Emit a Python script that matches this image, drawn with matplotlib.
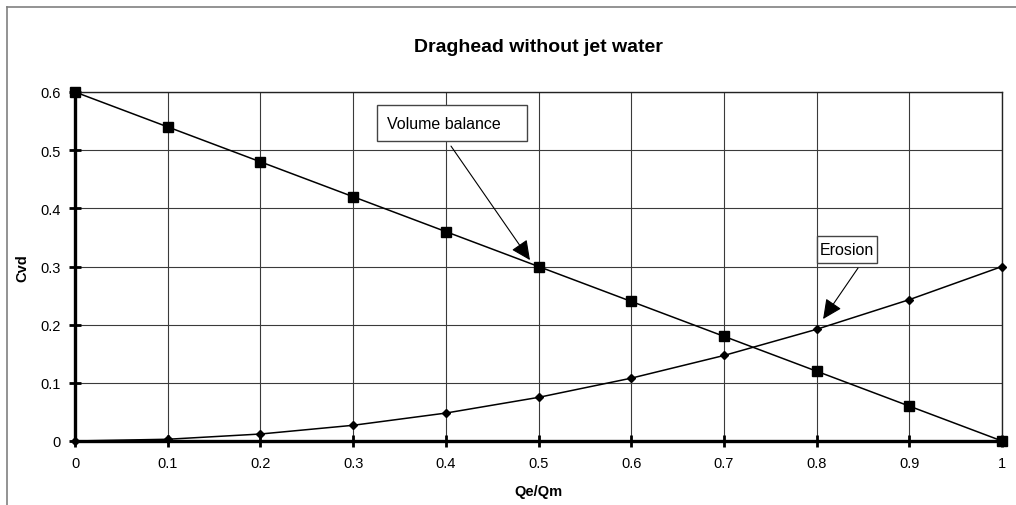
import matplotlib
matplotlib.use('Agg')
import matplotlib.pyplot as plt
from matplotlib.lines import Line2D
from matplotlib.patches import Rectangle

plt.rcParams['font.family'] = ['Liberation Sans', 'DejaVu Sans']

# Qe/Qm ratio and resulting Cvd for both approaches
qe_qm = [0.0, 0.1, 0.2, 0.3, 0.4, 0.5, 0.6, 0.7, 0.8, 0.9, 1.0]
volume_balance = [0.60, 0.54, 0.48, 0.42, 0.36, 0.30, 0.24, 0.18, 0.12, 0.06, 0.0]
erosion = [0.0, 0.003, 0.012, 0.027, 0.048, 0.075, 0.108, 0.147, 0.192, 0.243, 0.300]

x_ticks = [0, 0.1, 0.2, 0.3, 0.4, 0.5, 0.6, 0.7, 0.8, 0.9, 1]
x_tick_labels = ['0', '0.1', '0.2', '0.3', '0.4', '0.5', '0.6', '0.7', '0.8', '0.9', '1']
y_ticks = [0, 0.1, 0.2, 0.3, 0.4, 0.5, 0.6]
y_tick_labels = ['0', '0.1', '0.2', '0.3', '0.4', '0.5', '0.6']

W, H = 1016, 506
fig = plt.figure(figsize=(W / 100, H / 100), dpi=100)
ax = fig.add_axes([75 / W, (H - 442) / H, 927 / W, 349 / H])

# outer chart frame (top and left edges only)
fig.add_artist(Line2D([7 / W, 1], [1 - 8 / H, 1 - 8 / H], transform=fig.transFigure,
                      color='#808080', lw=1.2))
fig.add_artist(Line2D([7 / W, 7 / W], [0, 1 - 8 / H], transform=fig.transFigure,
                      color='#808080', lw=1.2))

ax.plot(qe_qm, volume_balance, color='black', lw=1.1, marker='s', markersize=6.5,
        clip_on=False, zorder=4)
ax.plot(qe_qm, erosion, color='black', lw=1.1, marker='D', markersize=4.5,
        clip_on=False, zorder=4)

ax.set_xlim(0, 1)
ax.set_ylim(0, 0.6)
ax.set_xticks(x_ticks)
ax.set_xticklabels(x_tick_labels)
ax.set_yticks(y_ticks)
ax.set_yticklabels(y_tick_labels)
ax.tick_params(axis='both', direction='inout', length=8, width=2, labelsize=10.5,
               color='black')
ax.tick_params(axis='x', pad=7)
ax.tick_params(axis='y', pad=6)

ax.grid(True, color='#3a3a3a', lw=0.8)
ax.set_axisbelow(True)

for side in ['left', 'bottom']:
    ax.spines[side].set_linewidth(2.4)
    ax.spines[side].set_color('black')
    ax.spines[side].set_zorder(5)
for side in ['top', 'right']:
    ax.spines[side].set_linewidth(1.0)
    ax.spines[side].set_color('#222222')

fig.text(538 / W, 1 - 47 / H, 'Draghead without jet water',
         ha='center', va='center', fontsize=14, fontweight='bold')
fig.text((75 + 927 / 2) / W, 1 - 492 / H, 'Qe/Qm', ha='center', va='center',
         fontsize=10.5, fontweight='bold')
fig.text(22 / W, 1 - 268 / H, 'Cvd', ha='center', va='center', rotation=90,
         fontsize=10.5, fontweight='bold')

# callouts
arrow = dict(arrowstyle='-|>,head_length=0.8,head_width=0.38', mutation_scale=15,
             color='black', lw=0.8, shrinkA=0, shrinkB=0)

ax.add_patch(Rectangle((0.3258, 0.5157), 0.1618, 0.0619, fc='white', ec='#444444',
                       lw=1.0, zorder=6))
ax.text(0.3366, 0.5467, 'Volume balance', ha='left', va='center', fontsize=11.5,
        zorder=7)
ax.annotate('', xy=(0.4908, 0.311), xytext=(0.4056, 0.507), arrowprops=arrow, zorder=6)

ax.add_patch(Rectangle((0.8004, 0.306), 0.0647, 0.0464, fc='white', ec='#444444',
                       lw=1.0, zorder=6))
ax.text(0.8328, 0.3292, 'Erosion', ha='center', va='center', fontsize=11.5, zorder=7)
ax.annotate('', xy=(0.807, 0.2097), xytext=(0.8447, 0.2974), arrowprops=arrow, zorder=6)

fig.savefig('out.png', dpi=100)
